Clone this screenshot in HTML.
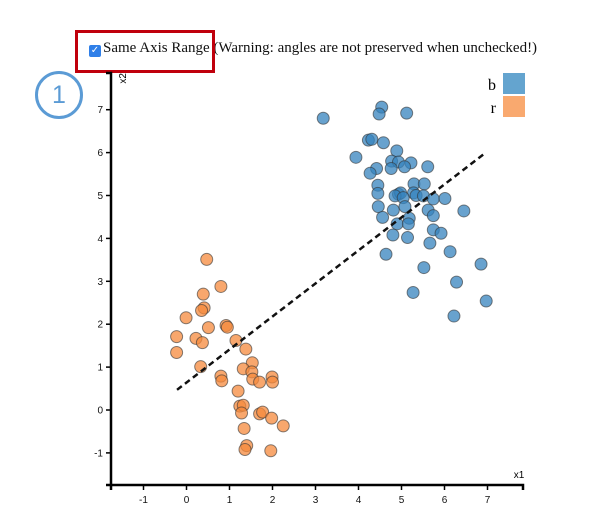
<!DOCTYPE html>
<html><head><meta charset="utf-8">
<style>
body{margin:0;width:590px;height:522px;background:#fff;overflow:hidden;position:relative;font-family:"Liberation Sans",sans-serif}
#ctrl{position:absolute;left:89px;top:40px;font-family:"Liberation Serif",serif;font-size:15px;color:#111;white-space:nowrap}
#cb{display:inline-block;width:12px;height:12px;background:#2f7fe8;border-radius:2px;vertical-align:-1px;margin-right:2px;color:#fff;font-size:10px;line-height:12px;text-align:center;font-family:"DejaVu Sans",sans-serif}
#redbox{position:absolute;left:75px;top:30px;width:134px;height:37px;border:3px solid #c0000c}
#badge{position:absolute;left:35px;top:71px;width:42px;height:42px;border:3px solid #5b9bd5;border-radius:50%;text-align:center;line-height:42px;font-size:25px;color:#5b9bd5}
svg{position:absolute;left:0;top:0}
</style></head><body>
<div id="ctrl"><span id="cb">✓</span>Same Axis Range (Warning: angles are not preserved when unchecked!)</div>
<div id="redbox"></div>
<div id="badge">1</div>
<svg id="chart" width="590" height="522"></svg>
<script>
const xTicks=[-1,0,1,2,3,4,5,6,7];
const yTicks=[-1,0,1,2,3,4,5,6,7];
const seriesNames=["b","r"];
const rX=[0.47,0.80,0.39,0.41,0.35,-0.01,0.92,0.95,0.51,-0.23,0.22,0.37,1.15,1.38,-0.23,0.33,1.53,1.32,1.52,0.80,0.82,1.54,1.70,1.99,2.00,1.20,1.24,1.32,1.28,1.70,1.77,1.98,2.25,1.34,1.40,1.36,1.96];
const rY=[3.51,2.88,2.70,2.38,2.32,2.15,1.97,1.93,1.92,1.71,1.67,1.57,1.62,1.42,1.34,1.01,1.10,0.96,0.89,0.79,0.68,0.72,0.65,0.77,0.65,0.44,0.09,0.11,-0.07,-0.09,-0.05,-0.19,-0.37,-0.43,-0.83,-0.92,-0.95];
const bX=[3.18,4.54,4.48,5.12,4.23,4.31,4.58,3.94,4.89,4.77,4.93,5.22,4.42,4.27,4.76,5.07,5.61,4.45,4.45,4.93,4.98,5.29,5.53,5.28,5.34,4.85,5.04,5.51,5.74,6.01,4.46,4.81,5.08,5.62,5.74,6.45,4.56,5.18,4.90,5.16,5.74,5.92,4.80,5.14,5.66,4.64,6.13,5.52,6.85,6.28,5.27,6.97,6.22];
const bY=[6.80,7.06,6.90,6.92,6.29,6.31,6.23,5.89,6.04,5.80,5.78,5.76,5.63,5.52,5.63,5.67,5.67,5.24,5.05,5.03,5.06,5.27,5.27,5.06,5.00,4.99,4.95,4.99,4.92,4.93,4.74,4.66,4.74,4.66,4.53,4.64,4.49,4.47,4.34,4.34,4.20,4.12,4.08,4.02,3.89,3.63,3.69,3.32,3.40,2.98,2.74,2.54,2.19];
const lineX=[-0.22,6.97];
const lineParams=[0.64,0.77]; // intercept, slope
const NS="http://www.w3.org/2000/svg";
const svg=document.getElementById('chart');
const X=v=>186.5+v*43.0, Y=v=>410-v*42.9;
function el(t,a,p){const e=document.createElementNS(NS,t);for(const k in a)e.setAttribute(k,a[k]);(p||svg).appendChild(e);return e;}
let e;
e=el('path',{d:'M106,73H111V485H106',fill:'none',stroke:'#000','stroke-width':2.5});


e=el('path',{d:'M111,490V485H523V490',fill:'none',stroke:'#000','stroke-width':2.5});


xTicks.forEach(t=>{
 const l=el('line',{x1:X(t),x2:X(t),y1:485,y2:490,stroke:'#000','stroke-width':1.5});
 
 
 const tx=el('text',{x:X(t),y:503,'text-anchor':'middle','font-size':10,fill:'#111'});tx.textContent=t;
 
 
});
yTicks.forEach(t=>{
 const l=el('line',{x1:106,x2:111,y1:Y(t),y2:Y(t),stroke:'#000','stroke-width':1.5});
 
 
 const tx=el('text',{x:103,y:Y(t)+3.5,'text-anchor':'end','font-size':10,fill:'#111'});tx.textContent=t;
 
 
});
e=el('text',{x:519,y:478,'text-anchor':'middle','font-size':10});e.textContent='x1';


e=el('text',{x:0,y:0,'font-size':10,transform:'translate(126,73) rotate(-90)','text-anchor':'end'});e.textContent='x2';


function pts(xs,ys,fill,name){xs.forEach((x,i)=>{const c=el('circle',{cx:X(x),cy:Y(ys[i]),r:6,fill:fill,'fill-opacity':0.75,stroke:'#333','stroke-opacity':0.6,'stroke-width':1});
 
 });}
pts(rX,rY,'#f58a3c','point-r');
pts(bX,bY,'#3583be','point-b');
e=el('line',{x1:X(lineX[0]),y1:Y(lineParams[0]+lineParams[1]*lineX[0]),x2:X(lineX[1]),y2:Y(lineParams[0]+lineParams[1]*lineX[1]),stroke:'#111','stroke-width':2.5,'stroke-dasharray':'6,4'});


const legCols=['#64a4cf','#f9a96f'];
seriesNames.forEach((n,i)=>{
 const g=el('g',{});
 
 
 el('rect',{x:503,y:73+i*23,width:22,height:21,fill:legCols[i]},g);
 const t=el('text',{x:496,y:90+i*23,'text-anchor':'end','font-size':16,'font-family':'Liberation Serif, serif'},g);t.textContent=n;
});
</script>
</body></html>
